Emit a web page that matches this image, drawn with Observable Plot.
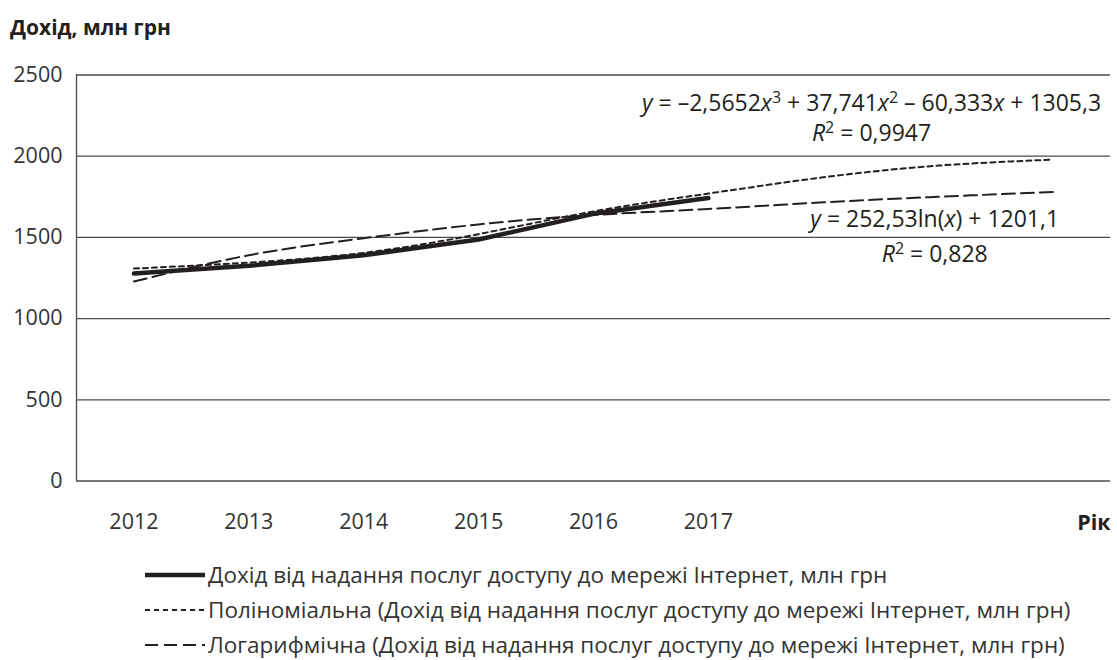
<!DOCTYPE html>
<html><head><meta charset="utf-8">
<script src="https://cdn.jsdelivr.net/npm/d3@7"></script>
<script src="https://cdn.jsdelivr.net/npm/@observablehq/plot@0.6"></script>
<style>
body{margin:0;background:#fff;font-family:"Open Sans",sans-serif;color:#231f20}
#wrap{position:relative;width:1117px;height:660px;overflow:hidden;background:#fff}
#title{position:absolute;left:10px;top:12px;font-weight:bold;font-size:21px;line-height:30px}
#chart{position:absolute;left:0;top:50px}
#legend{position:absolute;left:145px;top:557px}
.row{height:35px;display:flex;align-items:center;font-size:22.5px;white-space:nowrap;color:#333}
.row svg{margin-right:3px}
</style></head>
<body>
<div id="wrap">
  <div id="title">Дохід, млн грн</div>
  <div id="chart"></div>
  <div id="legend"></div>
</div>
<script>
// ---- data ----
const years = ["2012", "2013", "2014", "2015", "2016", "2017"];
const income = [1277, 1325, 1390, 1487, 1645, 1742];
const trendX = [1, 2, 3, 4, 5, 6, 7, 8, 9];
const polyTrend = [1308, 1345, 1405, 1520, 1660, 1770, 1870, 1942, 1979];
const logTrend = [1228, 1390, 1495, 1580, 1638, 1675, 1716, 1750, 1780];
const yTicks = [0, 500, 1000, 1500, 2000, 2500];
const seriesNames = [
  "Дохід від надання послуг доступу до мережі Інтернет, млн грн",
  "Поліноміальна (Дохід від надання послуг доступу до мережі Інтернет, млн грн)",
  "Логарифмічна (Дохід від надання послуг доступу до мережі Інтернет, млн грн)"
];
const polyEq = ["_y_ = –2,5652_x_^3^ + 37,741_x_^2^ – 60,333_x_ + 1305,3", "_R_^2^ = 0,9947"];
const logEq = ["_y_ = 252,53ln(_x_) + 1201,1", "_R_^2^ = 0,828"];

const ink = "#231f20";
const grid = "#4a4a4a";

const incomeData = years.map((y, i) => ({x: i + 1, v: income[i]}));
const polyData = trendX.map((x, i) => ({x, v: polyTrend[i]}));
const logData = trendX.map((x, i) => ({x, v: logTrend[i]}));

const chart = Plot.plot({
  width: 1117,
  height: 491,
  marginLeft: 76,
  marginRight: 7,
  marginTop: 24.5,
  marginBottom: 60.5,
  style: {fontFamily: "'Open Sans', sans-serif", fontSize: "21.5px", color: ink, background: "#fff"},
  x: {domain: [0.5, 9.5]},
  y: {domain: [0, 2500]},
  marks: [
    Plot.ruleY(yTicks, {stroke: grid, strokeWidth: 1.3}),
    Plot.ruleX([0.5], {y1: 0, y2: 2500, stroke: grid, strokeWidth: 1.3}),
    Plot.axisY({ticks: yTicks, tickFormat: d => String(d), tickSize: 0, tickPadding: 14, label: null, fill: "#333"}),
    Plot.axisX({ticks: [1, 2, 3, 4, 5, 6], tickFormat: i => years[i - 1], tickSize: 0, tickPadding: 33, label: null, fill: "#333"}),
    Plot.text(["Рік"], {frameAnchor: "bottom-right", dy: 49, textAnchor: "end", fontWeight: "bold", fill: ink}),
    Plot.line(polyData, {x: "x", y: "v", curve: "natural", stroke: ink, strokeWidth: 2, strokeDasharray: "5,4"}),
    Plot.line(logData, {x: "x", y: "v", curve: "natural", stroke: ink, strokeWidth: 2, strokeDasharray: "13,6"}),
    Plot.line(incomeData, {x: "x", y: "v", stroke: ink, strokeWidth: 4.5, strokeLinejoin: "round"}),
    Plot.text([polyEq[0]], {x: () => 7.42, y: () => 2324, fill: ink, fontSize: 23}),
    Plot.text([polyEq[1]], {x: () => 7.42, y: () => 2139, fill: ink, fontSize: 23}),
    Plot.text([logEq[0]], {x: () => 7.97, y: () => 1607, fill: ink, fontSize: 23}),
    Plot.text([logEq[1]], {x: () => 7.97, y: () => 1391, fill: ink, fontSize: 23})
  ]
});

// rich text: _italic_ and ^superscript^
d3.select(chart).selectAll("text").each(function () {
  const t = this.textContent;
  if (!/[_^]/.test(t)) return;
  const sel = d3.select(this);
  sel.text(null);
  const parts = t.split(/(_[^_]+_|\^[^^]+\^)/).filter(s => s.length);
  let raised = false;
  for (const p of parts) {
    const ts = sel.append("tspan");
    if (p[0] === "_") ts.text(p.slice(1, -1)).attr("font-style", "italic");
    else if (p[0] === "^") ts.text(p.slice(1, -1)).attr("font-size", "16px").attr("dy", "-8");
    else ts.text(p);
    if (p[0] !== "^" && raised) ts.attr("dy", "8");
    raised = p[0] === "^";
  }
});
document.getElementById("chart").appendChild(chart);

// legend
const dashes = [null, "5,4", "13,6"];
const widths = [4.5, 2, 2];
const legend = d3.select("#legend");
seriesNames.forEach((name, i) => {
  const row = legend.append("div").attr("class", "row");
  const s = row.append("svg").attr("width", 60).attr("height", 12);
  s.append("line").attr("x1", 0).attr("x2", 60).attr("y1", 6).attr("y2", 6)
    .attr("stroke", ink).attr("stroke-width", widths[i])
    .attr("stroke-dasharray", dashes[i]);
  row.append("span").text(name);
});
</script>
</body></html>
